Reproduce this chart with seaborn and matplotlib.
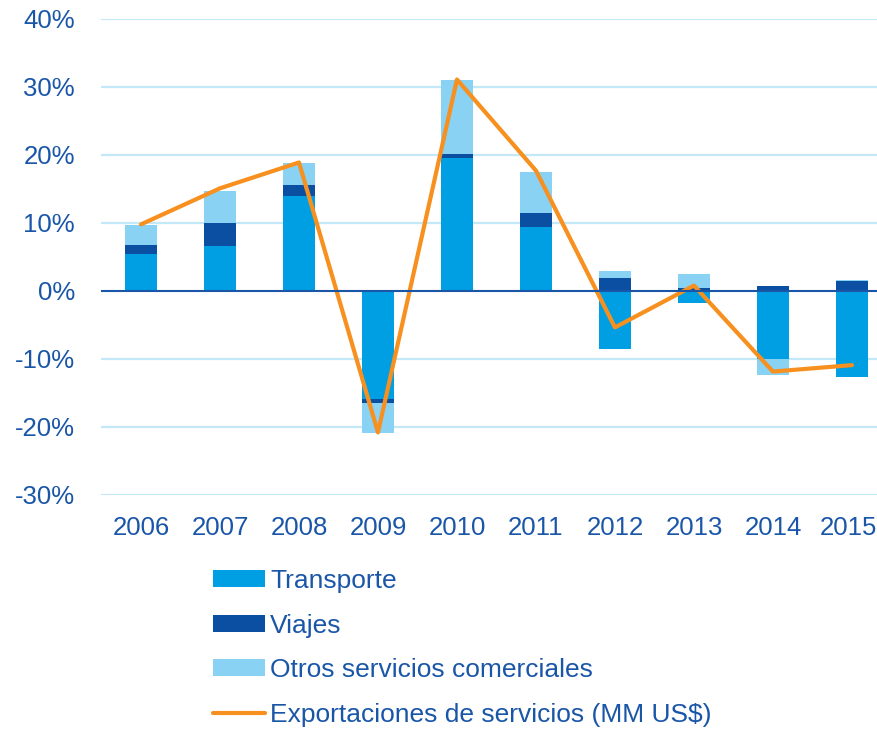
import numpy as np
import pandas as pd
import matplotlib
matplotlib.use("Agg")
import matplotlib.pyplot as plt
import seaborn as sns
from matplotlib.patches import Patch
from matplotlib.lines import Line2D

# Data (percent change)
years = ["2006", "2007", "2008", "2009", "2010", "2011", "2012", "2013", "2014", "2015"]
transporte = [5.45, 6.55, 13.9, -15.9, 19.6, 9.4, -8.5, -1.8, -10.0, -12.6]
viajes = [1.35, 3.45, 1.7, -0.55, 0.55, 2.0, 1.85, 0.4, 0.8, 1.4]
otros = [2.9, 4.7, 3.2, -4.4, 10.85, 6.1, 1.15, 2.1, -2.3, 0.2]
exportaciones = [9.8, 15.1, 18.9, -20.8, 31.1, 17.7, -5.35, 0.8, -11.85, -10.9]

series = [("Transporte", transporte, "#009fe3"),
          ("Viajes", viajes, "#0b4fa3"),
          ("Otros servicios comerciales", otros, "#8ad2f3")]
line_color = "#f7901e"
text_color = "#1a56a8"
grid_color = "#c3e8f8"
fs = 18.5

sns.set_style("white")
plt.rcParams["font.family"] = ["Liberation Sans", "DejaVu Sans"]

fig = plt.figure(figsize=(8.78, 7.32), dpi=100)
ax = fig.add_axes([101.5 / 878, (732 - 495) / 732, 1 - 101.5 / 878, 476 / 732])

x = np.arange(len(years))
pos_base = np.zeros(len(years))
neg_base = np.zeros(len(years))
for name, vals, col in series:
    vals = np.array(vals)
    bottom = np.where(vals >= 0, pos_base, neg_base)
    ax.bar(x, vals, width=0.4, bottom=bottom, color=col, edgecolor="none", zorder=2)
    pos_base = pos_base + np.where(vals >= 0, vals, 0)
    neg_base = neg_base + np.where(vals < 0, vals, 0)

df = pd.DataFrame({"x": x, "val": exportaciones})
sns.lineplot(data=df, x="x", y="val", ax=ax, color=line_color, linewidth=3, zorder=3)

ax.set_xlim(-0.5, 9.33)
ax.set_ylim(-30, 40)
ax.set_xlabel("")
ax.set_ylabel("")

# gridlines
for g in [40, 30, 20, 10, -10, -20, -30]:
    ax.axhline(g, color=grid_color, linewidth=1.6, zorder=1)

for s in ["top", "right", "left"]:
    ax.spines[s].set_visible(False)
ax.spines["bottom"].set_position(("data", 0))
ax.spines["bottom"].set_color(text_color)
ax.spines["bottom"].set_linewidth(1.5)
ax.spines["bottom"].set_zorder(4)

ax.set_xticks(np.arange(-0.5, 9.5, 1.0))
ax.set_xticklabels([])
ax.tick_params(axis="x", direction="out", length=6, width=1.5, color=text_color)

ax.set_yticks([40, 30, 20, 10, 0, -10, -20, -30])
ax.set_yticklabels([f"{v}%" for v in [40, 30, 20, 10, 0, -10, -20, -30]])
ax.tick_params(axis="y", length=0, pad=19, labelsize=fs, labelcolor=text_color)

# year labels below the plot area (last one kept inside the figure edge)
trans = matplotlib.transforms.blended_transform_factory(ax.transData, ax.transAxes)
for i, y in enumerate(years):
    if i == len(years) - 1:
        ax.text(0.999, -0.07, y, transform=ax.transAxes, ha="right", va="center",
                fontsize=fs, color=text_color)
    else:
        ax.text(i, -0.07, y, transform=trans, ha="center", va="center",
                fontsize=fs, color=text_color)

handles = [Patch(facecolor=c, edgecolor="none", label=n) for n, _, c in series]
handles.append(Line2D([0], [0], color=line_color, linewidth=3,
                      label="Exportaciones de servicios (MM US$)"))
fig.legend(handles=handles, loc="upper left", bbox_to_anchor=(213 / 878, 1 - 569 / 732),
           frameon=False, fontsize=19, labelcolor=text_color,
           handlelength=1.97, handleheight=0.6, handletextpad=0.2, labelspacing=0.78,
           borderpad=0, borderaxespad=0)

fig.savefig("out.png", dpi=100)
